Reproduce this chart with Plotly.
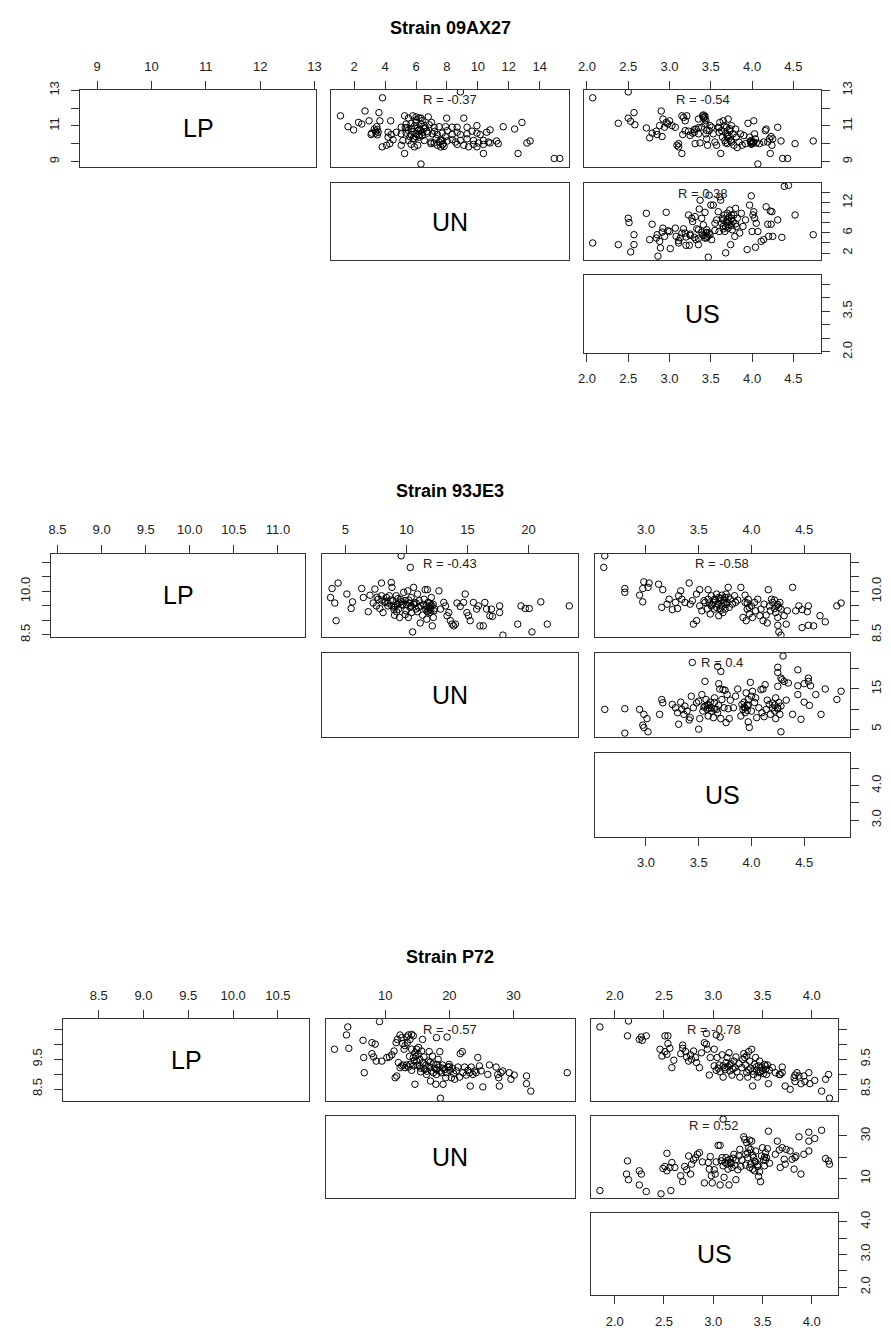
import plotly.graph_objects as go

W, H = 891, 1336
FONT = "Liberation Sans, Arial, Helvetica, sans-serif"
LINE = "#333333"

TITLES = ["Strain 09AX27", "Strain 93JE3", "Strain P72"]
VAR_NAMES = ["LP", "UN", "US"]
R_LABELS = [
    ["R = -0.37", "R = -0.54", "R = 0.38"],
    ["R = -0.43", "R = -0.58", "R = 0.4"],
    ["R = -0.57", "R = -0.78", "R = 0.52"],
]

# axis ranges per strain
RANGES = [
    {"LP": [8.69, 13.03], "UN": [0.53, 15.92], "US": [1.97, 4.83]},
    {"LP": [8.43, 11.31], "UN": [3.12, 24.03], "US": [2.52, 4.93]},
    {"LP": [8.10, 10.85], "UN": [0.83, 39.5], "US": [1.756, 4.266]},
]
# tick values, full labels (top / bottom) and thinned labels (left / right)
TICKS = [
    {"LP": [9, 10, 11, 12, 13], "UN": [2, 4, 6, 8, 10, 12, 14], "US": [2.0, 2.5, 3.0, 3.5, 4.0, 4.5]},
    {"LP": [8.5, 9.0, 9.5, 10.0, 10.5, 11.0], "UN": [5, 10, 15, 20], "US": [3.0, 3.5, 4.0, 4.5]},
    {"LP": [8.5, 9.0, 9.5, 10.0, 10.5], "UN": [10, 20, 30], "US": [2.0, 2.5, 3.0, 3.5, 4.0]},
]
TICK_TEXT = [
    {"LP": ["9", "10", "11", "12", "13"], "UN": ["2", "4", "6", "8", "10", "12", "14"],
     "US": ["2.0", "2.5", "3.0", "3.5", "4.0", "4.5"]},
    {"LP": ["8.5", "9.0", "9.5", "10.0", "10.5", "11.0"], "UN": ["5", "10", "15", "20"],
     "US": ["3.0", "3.5", "4.0", "4.5"]},
    {"LP": ["8.5", "9.0", "9.5", "10.0", "10.5"], "UN": ["10", "20", "30"],
     "US": ["2.0", "2.5", "3.0", "3.5", "4.0"]},
]
SIDE_TEXT = [
    {"LP": ["9", "", "11", "", "13"], "UN": ["2", "", "6", "", "", "12", ""],
     "US": ["2.0", "", "", "3.5", "", ""]},
    {"LP": ["8.5", "", "", "10.0", "", ""], "UN": ["5", "", "15", ""],
     "US": ["3.0", "", "4.0", ""]},
    {"LP": ["8.5", "", "9.5", "", ""], "UN": ["10", "", "30"],
     "US": ["2.0", "", "3.0", "", "4.0"]},
]

# ---------------- Strain 09AX27 ----------------
s1_un_lp = [(1.11,11.57),(3.60,11.75),(2.70,11.84),(5.26,11.57),(5.51,11.44),(5.79,11.57),(6.00,11.51),(6.32,11.44),
    (6.79,11.51),(7.98,11.44),(9.09,11.44),(3.83,12.58),(8.87,12.91),
    (1.60,10.96),(2.28,11.20),(2.49,11.11),(2.96,11.29),(3.66,11.29),(4.36,11.29),(5.04,10.93),(5.36,11.11),
    (5.68,11.15),(6.00,11.20),(6.32,11.11),(6.53,11.02),(6.85,11.07),(7.17,10.93),(7.49,10.96),(7.91,10.96),
    (8.34,10.93),(8.66,10.93),(9.30,10.93),(9.94,11.02),(11.64,10.96),(12.85,11.20),
    (1.96,10.78),(3.13,10.60),(3.30,10.83),(3.45,10.96),(3.38,10.71),(4.19,10.65),(4.40,10.52),(4.72,10.65),
    (5.04,10.56),(5.36,10.60),(5.68,10.52),(6.00,10.56),(6.11,10.74),(6.43,10.65),(6.74,10.60),(7.06,10.56),
    (7.38,10.52),(7.70,10.60),(8.02,10.74),(8.34,10.52),(8.66,10.65),(8.87,10.52),(9.30,10.56),(9.62,10.71),
    (9.94,10.60),(10.15,10.52),(10.57,10.65),(10.79,10.78),(12.38,10.83),
    (3.09,10.52),(4.19,10.38),(4.51,10.23),(5.15,10.19),(5.51,10.19),(5.89,10.28),(6.21,10.38),(6.53,10.19),
    (6.96,10.10),(7.17,10.05),(7.49,10.10),(7.70,10.19),(8.02,10.16),(8.34,10.23),(8.55,10.10),(8.87,10.19),
    (9.30,10.28),(9.72,10.19),(10.04,10.05),(10.36,10.19),(10.68,10.10),(11.21,10.16),(11.32,10.01),
    (13.17,10.05),(13.38,10.16),
    (3.81,9.83),(4.09,9.92),(4.30,10.01),(5.04,9.92),(5.68,9.97),(6.11,9.92),(6.96,10.01),(7.38,9.92),
    (7.60,9.83),(7.81,9.86),(8.66,9.97),(9.09,9.92),(9.40,9.83),(9.72,9.97),(9.94,9.83),(10.36,9.97),(10.79,10.05),
    (5.26,9.46),(5.89,9.83),(10.36,9.46),(12.60,9.46),(6.32,8.87),(14.94,9.18),(15.30,9.18),
    (6.2,10.8),(6.6,10.9),(5.8,10.7),(6.0,10.4),(7.3,10.3),(7.9,10.4),(5.4,10.9),(6.4,11.3),(7.0,11.2),
    (3.4,10.6),(3.5,10.8),
    (5.3,10.9),(5.5,10.75),(5.7,10.85),(5.9,11.0),(6.1,10.9),(6.3,10.75),(6.5,10.85),(6.7,10.7),(5.6,10.4),
    (5.8,10.3),(6.2,10.5),(6.4,10.45),(7.2,10.7),(7.6,10.2),(7.7,9.95),(7.75,10.0),(6.0,11.35),(6.2,11.45),
    (3.55,10.65),(3.5,10.5)]

s1_us_lp = [(2.07,12.58),(2.50,12.91),(2.38,11.15),(2.50,11.44),(2.53,11.26),(2.57,11.75),(2.58,11.07),(2.72,10.89),
    (2.76,10.34),(2.79,10.60),(2.84,10.71),(2.85,10.52),(2.88,11.02),(2.90,11.84),(2.91,10.41),(2.92,11.39),
    (2.94,10.93),(2.96,11.20),(2.98,11.11),(3.00,11.29),(3.03,11.02),(3.07,10.93),(3.09,9.92),(3.11,9.83),
    (3.11,10.01),(3.15,9.46),(3.15,11.57),(3.17,11.48),(3.19,11.29),(3.21,11.57),(3.16,10.52),(3.19,10.74),
    (3.23,10.71),(3.25,10.47),(3.28,10.60),(3.31,10.01),(3.32,10.83),(3.35,11.39),(3.35,10.56),(3.37,10.05),
    (3.39,10.93),(3.40,11.57),(3.41,11.62),(3.43,11.39),(3.43,11.11),(3.44,10.56),(3.45,10.28),(3.46,9.92),
    (3.48,10.74),(3.49,11.02),(3.51,10.93),(3.53,10.56),(3.55,10.10),(3.57,9.92),(3.59,10.93),(3.61,11.20),
    (3.62,9.46),(3.63,10.74),(3.64,10.38),(3.65,11.29),(3.66,11.02),(3.67,10.19),(3.68,10.60),(3.69,10.93),
    (3.70,10.01),(3.71,11.39),(3.72,10.47),(3.73,10.74),(3.74,10.19),(3.75,11.02),(3.77,10.56),(3.78,9.92),
    (3.80,10.83),(3.81,10.38),(3.82,9.79),(3.84,10.10),(3.86,10.56),(3.88,9.92),(3.90,10.47),(3.92,10.01),
    (3.95,11.15),(3.97,10.38),(3.98,10.10),(3.99,10.19),(4.01,10.10),(4.02,11.29),(4.03,10.56),(4.04,10.28),
    (4.05,10.05),(4.07,8.87),(4.09,10.01),(4.14,10.10),(4.16,10.74),(4.17,10.83),(4.19,10.10),(4.21,10.28),
    (4.22,9.46),(4.23,10.41),(4.24,9.92),(4.25,10.28),(4.31,10.93),(4.35,10.16),(4.37,9.18),(4.43,9.18),
    (4.52,10.01),(4.74,10.16),(4.00,10.05),(3.98,10.15),(3.60,10.65),(3.70,10.50),(3.45,10.75),(3.30,10.65),
    (3.42,11.50),(3.43,11.55),(3.41,11.45),(3.44,11.30),(3.70,10.40),(3.72,10.30),(3.75,10.10),(3.68,10.05),
    (3.73,10.85),(4.00,10.00),(4.02,10.08),(3.99,9.98),(3.60,10.90),(3.35,10.90),(3.30,10.80)]

s1_us_un = [(2.07,4.00),(2.38,3.67),(2.50,8.91),(2.51,8.06),(2.53,2.23),(2.57,5.64),(2.57,3.67),(2.72,9.89),
    (2.76,4.66),(2.79,7.73),(2.84,4.98),(2.85,5.64),(2.86,1.38),(2.88,4.33),(2.89,3.02),(2.91,6.16),(2.92,6.95),
    (2.94,5.31),(2.96,10.09),(2.98,6.42),(3.00,6.29),(3.01,2.89),(3.07,6.95),(3.08,5.31),(3.11,4.00),(3.11,4.46),
    (3.13,4.98),(3.15,5.97),(3.17,6.82),(3.19,5.97),(3.20,3.54),(3.23,9.57),(3.24,3.54),(3.25,5.77),(3.27,8.91),
    (3.28,8.26),(3.31,9.24),(3.32,4.66),(3.33,6.82),(3.35,3.67),(3.35,6.62),(3.36,10.75),(3.37,12.51),(3.39,8.91),
    (3.39,6.16),(3.41,7.60),(3.43,4.98),(3.43,10.09),(3.44,5.97),(3.45,6.62),(3.46,5.31),(3.47,1.18),(3.48,13.50),
    (3.49,5.64),(3.50,11.53),(3.51,4.66),(3.53,11.53),(3.55,7.93),(3.57,8.59),(3.59,10.22),(3.60,6.29),(3.61,13.17),
    (3.62,12.51),(3.63,7.93),(3.64,8.91),(3.65,7.28),(3.66,9.57),(3.67,6.29),(3.68,2.04),(3.69,8.26),(3.70,9.89),
    (3.71,6.95),(3.72,7.60),(3.73,10.55),(3.74,3.67),(3.75,8.91),(3.76,6.62),(3.77,8.26),(3.78,9.57),(3.79,5.31),
    (3.80,10.88),(3.81,7.28),(3.82,8.91),(3.85,5.97),(3.87,9.89),(3.89,7.28),(3.92,8.59),(3.94,2.69),(3.97,11.53),
    (3.99,13.37),(4.00,6.29),(4.01,9.57),(4.02,10.22),(4.03,8.91),(4.04,3.15),(4.05,7.93),(4.07,6.29),(4.11,4.33),
    (4.14,4.66),(4.17,11.20),(4.19,7.73),(4.20,5.31),(4.22,10.35),(4.23,7.73),(4.24,10.22),(4.25,5.31),(4.31,8.59),
    (4.36,5.12),(4.39,15.26),(4.44,15.46),(4.52,9.57),(4.74,5.64),
    (3.70,8.00),(3.75,7.50),(3.65,8.60),(3.55,6.50),(3.45,6.10),(3.40,5.60),(3.80,7.80),(3.72,9.10),(3.25,5.50),
    (3.20,5.20),(3.45,5.00),(3.42,5.50),(3.48,6.00),(3.70,8.60),(3.68,7.20),(3.75,9.60),(3.72,8.30),(3.65,6.80),
    (3.30,5.10),(3.35,4.90)]

# ---------------- Strain 93JE3 ----------------
s2_un_lp = [(9.57,11.23),(10.32,10.83),(4.41,10.29),(3.92,10.10),(3.79,9.79),(4.14,9.60),(4.25,8.99),(5.13,9.91),
    (5.59,9.64),(5.48,9.41),(6.34,10.10),(6.48,9.79),(6.88,9.30),(7.02,9.87),(7.28,9.60),(7.42,10.08),(7.55,9.50),
    (7.69,9.73),(7.82,9.41),(7.96,10.29),(7.96,9.85),(8.09,9.27),(8.23,9.62),(8.36,9.79),(8.49,9.50),(8.76,10.31),
    (8.82,10.14),(8.90,9.68),(8.98,9.37),(9.03,9.18),(9.17,9.85),(9.25,9.56),(9.36,9.39),(9.44,9.10),(9.52,9.73),
    (9.62,9.53),(9.78,9.97),(9.89,9.68),(9.97,9.33),(10.11,10.02),(10.16,9.10),(10.24,9.60),(10.38,9.79),(10.43,9.27),
    (10.51,8.60),(10.59,10.14),(10.65,9.62),(10.78,9.39),(10.91,9.91),(11.05,9.68),(11.13,8.91),(11.18,9.50),
    (11.32,9.18),(11.45,9.73),(11.53,10.06),(11.59,9.39),(11.67,9.04),(11.72,10.06),(11.77,9.62),(11.85,9.41),
    (11.93,9.27),(11.99,9.53),(12.04,9.79),(12.12,8.81),(12.20,9.10),(12.26,9.33),(12.66,10.02),(12.80,9.39),
    (13.06,9.62),(13.20,9.50),(13.33,9.16),(13.47,9.27),(13.60,8.99),(13.74,8.87),(13.87,8.81),(14.01,8.87),
    (14.14,9.60),(14.41,9.48),(14.68,9.62),(14.81,9.91),(14.95,9.27),(15.08,9.16),(15.22,8.99),(15.48,9.62),
    (15.75,9.39),(15.89,9.50),(16.02,8.81),(16.29,8.81),(16.42,9.62),(16.56,9.39),(16.83,9.16),(16.96,9.39),
    (17.04,9.14),(17.63,9.50),(17.63,9.27),(17.90,8.49),(19.11,8.87),(19.38,9.50),(19.73,9.41),(20.05,9.41),
    (20.27,8.60),(21.00,9.64),(21.53,8.87),(23.33,9.50),
    (8.5,9.6),(8.8,9.5),(9.1,9.5),(9.4,9.6),(9.7,9.55),(10.0,9.55),(10.3,9.45),(10.6,9.55),(11.0,9.45),(11.4,9.55),
    (11.9,9.45),(12.1,9.5),(12.3,9.4),(9.2,9.3),(9.9,9.2),(8.6,9.85),(7.6,9.8),
    (8.0,9.7),(8.3,9.65),(8.7,9.7),(9.3,9.75),(9.6,9.65),(10.2,9.7),(10.4,9.5),(10.8,9.6),(11.6,9.5),(11.7,9.3),
    (11.8,9.35),(11.9,9.6),(12.0,9.35),(12.2,9.55),(10.9,9.3),(9.0,9.45)]

s2_us_lp = [(2.61,11.23),(2.60,10.83),(2.80,10.10),(2.80,9.97),(2.94,9.87),(2.97,9.64),(2.97,10.10),(2.98,10.33),
    (3.02,10.14),(3.03,10.29),(3.12,10.25),(3.16,10.06),(3.15,9.45),(3.20,9.56),(3.22,9.73),(3.25,9.37),(3.28,9.62),
    (3.30,9.41),(3.31,9.85),(3.33,10.02),(3.34,9.73),(3.37,9.62),(3.41,10.29),(3.42,9.56),(3.44,9.68),(3.45,8.87),
    (3.48,8.99),(3.48,9.91),(3.51,10.06),(3.51,9.50),(3.53,9.33),(3.55,9.68),(3.56,9.62),(3.58,9.39),(3.59,10.06),
    (3.59,9.73),(3.61,9.22),(3.62,9.50),(3.62,9.85),(3.64,9.62),(3.65,9.39),(3.65,9.73),(3.67,9.91),(3.68,9.56),
    (3.69,9.16),(3.69,9.79),(3.70,9.41),(3.71,9.68),(3.72,9.87),(3.72,9.50),(3.73,9.27),(3.74,9.62),(3.75,9.79),
    (3.75,9.39),(3.76,9.91),(3.77,9.62),(3.78,10.14),(3.79,9.45),(3.80,9.73),(3.82,9.56),(3.84,9.85),(3.85,9.62),
    (3.87,9.70),(3.90,10.14),(3.92,9.10),(3.94,9.87),(3.94,9.62),(3.95,8.99),(3.96,9.39),(3.97,9.73),(3.98,9.22),
    (4.00,9.50),(4.01,9.10),(4.03,9.62),(4.04,9.33),(4.06,9.73),(4.08,9.16),(4.09,9.39),(4.11,8.99),(4.12,9.56),
    (4.14,9.18),(4.15,8.91),(4.16,10.06),(4.17,9.50),(4.18,9.33),(4.19,9.73),(4.20,9.62),(4.22,9.41),(4.23,9.27),
    (4.24,9.50),(4.25,9.10),(4.25,8.83),(4.26,8.60),(4.28,8.49),(4.27,9.62),(4.28,9.39),(4.31,9.16),(4.33,8.87),
    (4.34,9.33),(4.39,10.14),(4.42,9.33),(4.45,9.50),(4.48,9.37),(4.53,9.30),(4.54,9.50),(4.48,8.75),(4.54,8.83),
    (4.59,8.81),(4.65,9.16),(4.70,8.95),(4.81,9.50),(4.85,9.60),
    (3.60,9.60),(3.63,9.55),(3.66,9.70),(3.70,9.75),(3.74,9.70),(3.76,9.55),(3.78,9.80),(3.67,9.45),(3.71,9.35),
    (3.96,9.60),(3.98,9.45),(4.25,9.55),(4.26,9.45),(4.22,9.70)]

s2_us_un = [(3.44,21.6),(3.68,20.6),(3.71,19.35),(4.30,23.2),(4.25,20.4),(4.25,19.1),(4.28,17.71),(4.29,17.30),
    (4.31,16.89),(4.35,16.48),(4.44,19.76),(4.25,15.66),(4.44,15.8),(4.44,13.61),(4.50,16.32),(4.54,17.71),
    (4.54,16.89),(4.56,15.8),(4.61,13.61),(4.70,15.0),(4.81,12.38),(4.85,14.43),(4.50,11.72),(4.55,10.91),
    (4.66,8.69),(4.47,7.46),(4.39,8.69),(4.28,4.35),(2.61,9.92),(2.80,10.09),(2.94,9.92),(2.98,8.69),(3.01,7.63),
    (2.97,5.99),(2.98,5.42),(3.02,4.35),(2.80,4.02),(3.13,8.69),(3.15,12.38),(3.16,11.56),(3.25,11.15),(3.28,10.33),
    (3.30,9.10),(3.31,6.23),(3.33,11.72),(3.34,9.92),(3.36,8.69),(3.37,10.74),(3.39,9.51),(3.41,7.30),(3.42,7.87),
    (3.43,13.2),(3.45,10.33),(3.48,11.56),(3.50,5.01),(3.50,11.97),(3.51,7.63),(3.53,13.61),(3.54,9.51),(3.56,16.89),
    (3.56,10.74),(3.57,12.38),(3.58,9.92),(3.59,8.28),(3.59,11.15),(3.61,11.72),(3.62,9.51),(3.62,10.33),(3.64,7.87),
    (3.65,12.79),(3.65,11.64),(3.67,9.92),(3.68,9.10),(3.69,10.91),(3.69,16.32),(3.70,15.0),(3.71,7.63),(3.72,12.38),
    (3.73,14.84),(3.74,10.33),(3.75,14.68),(3.76,6.64),(3.77,13.61),(3.78,10.09),(3.79,7.63),(3.80,12.22),(3.83,10.33),
    (3.85,13.2),(3.87,15.0),(3.90,8.28),(3.91,11.15),(3.92,9.92),(3.93,11.72),(3.94,10.33),(3.94,9.10),(3.95,14.02),
    (3.96,10.91),(3.97,6.81),(3.97,12.38),(3.98,5.42),(3.99,16.65),(4.00,9.51),(4.00,13.2),(4.01,14.43),(4.03,11.64),
    (4.04,12.79),(4.05,7.87),(4.07,10.33),(4.09,14.84),(4.10,9.10),(4.11,15.0),(4.12,8.11),(4.13,16.07),(4.14,9.92),
    (4.15,12.22),(4.17,11.15),(4.18,8.69),(4.20,10.33),(4.22,9.51),(4.23,7.63),(4.23,12.79),(4.25,10.33),(4.26,11.64),
    (4.27,8.69),(4.28,10.74),(4.33,12.22),
    (3.55,10.5),(3.60,10.2),(3.65,10.0),(3.58,11.0),(3.93,10.5),(3.96,9.7),(3.97,11.0),(4.20,11.5),(4.22,11.0),
    (4.25,10.0)]

# ---------------- Strain P72 ----------------
s3_un_lp = [(4.18,10.59),(3.97,10.32),(9.12,10.77),(2.11,9.84),(4.33,9.87),(6.55,10.14),(7.94,10.06),(8.45,10.01),
    (6.65,9.56),(7.94,9.69),(8.20,9.58),(8.61,9.44),(6.75,9.05),(9.48,9.44),(10.26,9.56),(10.67,9.58),(11.03,9.65),
    (11.39,9.78),(11.70,10.06),(11.91,10.17),(12.32,10.32),(12.58,10.23),(12.73,10.03),(12.94,9.84),(13.09,9.96),
    (13.35,10.25),(13.61,10.32),(13.87,10.17),(14.12,10.34),(14.38,10.29),(13.45,10.06),(11.55,8.88),(11.80,8.94),
    (12.06,9.39),(12.32,9.22),(12.58,9.28),(12.84,9.31),(13.09,9.22),(13.35,9.31),(13.61,9.24),(13.87,9.33),
    (14.12,9.13),(14.38,9.28),(14.64,8.66),(14.12,9.84),(14.38,9.56),(14.64,9.72),(14.90,9.84),(14.90,9.44),
    (15.15,9.67),(15.31,9.28),(15.41,9.50),(15.52,9.08),(15.67,9.78),(15.82,10.17),(15.93,9.39),(16.03,9.58),
    (16.19,9.16),(16.34,9.31),(16.44,8.99),(16.70,9.44),(16.86,9.76),(16.96,9.24),(17.06,8.77),(17.22,9.11),
    (17.37,9.61),(17.47,9.35),(17.73,9.20),(17.89,8.66),(17.99,10.23),(17.99,8.99),(18.09,9.33),(18.25,9.50),
    (18.40,9.24),(18.51,9.76),(18.61,8.19),(18.76,9.05),(18.92,9.31),(19.02,8.66),(19.28,9.16),(19.43,8.88),
    (19.64,10.25),(19.79,9.24),(19.95,9.33),(20.05,9.13),(20.31,8.88),(20.46,9.20),(20.67,9.02),(20.82,8.83),
    (21.08,9.11),(21.34,9.24),(21.60,8.90),(21.70,9.69),(22.01,9.76),(22.11,9.05),(22.37,9.24),(22.63,8.97),
    (22.89,9.13),(23.14,9.05),(23.25,8.60),(23.40,9.24),(23.66,8.99),(23.92,9.11),(24.18,9.05),(24.43,9.56),
    (24.69,9.28),(24.95,9.11),(25.21,8.57),(25.98,8.99),(26.24,9.31),(27.27,9.24),(27.53,8.99),(27.68,8.88),
    (27.78,8.60),(28.04,9.05),(28.30,9.11),(29.33,9.05),(29.59,8.83),(30.10,8.97),(32.01,8.94),(32.01,8.68),
    (32.68,8.43),(38.35,9.05),
    (14.5,9.45),(15.0,9.30),(15.5,9.20),(16.0,9.20),(16.5,9.10),(17.0,9.40),(17.5,9.05),(18.0,9.15),(18.5,9.10),
    (19.0,9.20),(19.5,9.05),(20.0,9.25),(14.8,9.60),(15.2,9.90),(13.8,9.60)]

s3_us_lp = [(1.85,10.59),(2.14,10.79),(2.13,10.29),(2.25,10.17),(2.27,10.25),(2.32,10.29),(2.28,10.14),(2.51,10.29),
    (2.54,10.29),(2.54,10.03),(2.46,9.84),(2.51,9.76),(2.48,9.61),(2.56,9.87),(2.53,9.67),(2.60,9.47),(2.58,9.22),
    (2.67,9.69),(2.69,9.98),(2.69,9.87),(2.72,9.76),(2.73,9.58),(2.75,9.44),(2.77,9.65),(2.78,9.50),(2.80,9.78),
    (2.82,9.56),(2.83,9.39),(2.86,9.22),(2.88,9.72),(2.91,10.06),(2.93,10.01),(2.94,9.84),(2.93,10.37),(2.97,9.56),
    (2.96,8.97),(3.01,9.84),(3.03,10.32),(3.07,10.25),(3.04,9.56),(3.01,9.28),(3.03,9.13),(3.06,9.31),(3.07,9.08),
    (3.09,9.65),(3.10,8.90),(3.12,9.22),(3.13,9.39),(3.14,9.56),(3.16,9.72),(3.17,9.11),(3.17,9.31),(3.19,8.97),
    (3.21,9.44),(3.22,9.22),(3.23,9.58),(3.24,9.08),(3.26,9.35),(3.27,8.90),(3.29,9.22),(3.31,9.69),(3.32,9.56),
    (3.33,9.31),(3.34,9.05),(3.35,8.90),(3.36,9.76),(3.37,9.44),(3.38,9.20),(3.39,9.84),(3.40,8.60),(3.41,8.99),
    (3.42,9.33),(3.43,9.56),(3.44,9.13),(3.45,8.90),(3.46,9.28),(3.47,9.44),(3.48,9.08),(3.49,9.22),(3.51,9.02),
    (3.52,9.33),(3.53,9.16),(3.54,8.99),(3.55,9.31),(3.56,8.68),(3.57,9.13),(3.60,9.22),(3.63,9.05),(3.67,8.99),
    (3.68,8.99),(3.70,9.05),(3.70,9.24),(3.73,8.60),(3.78,8.49),(3.82,8.88),(3.83,8.97),(3.83,8.75),(3.85,9.05),
    (3.87,8.94),(3.89,8.68),(3.92,8.94),(3.93,8.75),(3.97,9.05),(3.98,8.68),(4.03,8.79),(4.10,8.43),(4.14,8.83),
    (4.17,8.99),(4.18,8.19),
    (3.10,9.28),(3.12,9.15),(3.15,9.25),(3.18,9.35),(3.20,9.18),(3.30,9.50),(3.34,9.62),(3.36,9.15),(3.40,9.10),
    (3.44,9.25),(3.47,9.05),(3.50,9.12),(3.05,9.20),(3.53,9.28)]

s3_us_un = [(1.85,4.25),(2.13,18.22),(2.12,12.01),(2.14,9.37),(2.25,13.56),(2.27,12.01),(2.25,6.89),(2.32,3.78),
    (2.47,2.69),(2.53,21.8),(2.51,15.58),(2.49,14.65),(2.53,13.56),(2.56,15.12),(2.58,17.44),(2.61,15.12),(2.57,4.25),
    (2.67,11.23),(2.69,8.44),(2.71,15.58),(2.73,14.03),(2.75,20.55),(2.77,12.01),(2.78,16.67),(2.80,18.68),
    (2.82,19.77),(2.84,21.33),(2.86,22.10),(2.89,17.75),(2.91,7.82),(2.95,17.44),(2.96,14.34),(2.97,20.24),
    (2.98,11.23),(2.99,7.82),(3.01,14.03),(3.02,12.01),(3.03,17.75),(3.05,25.52),(3.07,6.89),(3.07,25.52),
    (3.08,18.22),(3.09,19.77),(3.10,15.89),(3.11,10.46),(3.12,17.44),(3.13,19.77),(3.14,16.67),(3.15,14.34),
    (3.16,6.89),(3.17,19.0),(3.18,17.44),(3.19,15.12),(3.21,21.33),(3.22,16.2),(3.23,9.37),(3.23,18.68),(3.25,14.03),
    (3.26,20.55),(3.27,23.66),(3.28,15.58),(3.29,18.68),(3.31,29.56),(3.32,28.31),(3.33,21.33),(3.33,16.2),
    (3.34,26.76),(3.35,19.77),(3.36,24.43),(3.37,15.12),(3.37,28.0),(3.38,16.67),(3.39,27.54),(3.40,14.34),
    (3.41,19.77),(3.42,13.56),(3.43,22.88),(3.43,17.75),(3.45,15.58),(3.46,10.92),(3.47,13.09),(3.48,8.44),
    (3.49,20.55),(3.50,24.43),(3.51,18.68),(3.52,15.89),(3.53,22.10),(3.54,19.77),(3.55,23.97),(3.56,32.2),
    (3.57,17.13),(3.63,21.33),(3.65,27.54),(3.67,23.35),(3.68,15.12),(3.70,24.43),(3.72,19.0),(3.73,16.67),
    (3.74,23.66),(3.78,22.88),(3.80,19.0),(3.82,14.34),(3.83,19.77),(3.84,20.55),(3.87,29.56),(3.89,12.01),
    (3.92,21.33),(3.97,27.54),(3.97,22.88),(3.97,31.73),(4.03,28.78),(4.10,32.66),(4.14,19.31),(4.17,18.22),
    (4.18,16.67),(3.10,37.9),
    (3.35,22.0),(3.40,21.0),(3.38,23.5),(3.52,20.0),(3.53,18.5),(3.15,18.5),(3.18,17.0),(3.20,19.5),(3.42,18.0),
    (3.45,16.5)]

SCATTER = [
    {(0, 1): s1_un_lp, (0, 2): s1_us_lp, (1, 2): s1_us_un},
    {(0, 1): s2_un_lp, (0, 2): s2_us_lp, (1, 2): s2_us_un},
    {(0, 1): s3_un_lp, (0, 2): s3_us_lp, (1, 2): s3_us_un},
]

# panel geometry in pixels: (left, right) per column, (top, bottom) per row
GEOM = [
    dict(cols=[(74.3, 313.7), (329.3, 570.7), (586, 825.7)],
         rows=[(81.7, 160), (176, 254.3), (269.3, 347.7)], title_y=19),
    dict(cols=[(45, 302.7), (320, 579.3), (597, 855)],
         rows=[(550.7, 635), (651, 736), (752.7, 837.3)], title_y=487),
    dict(cols=[(56.7, 306.7), (324, 576), (592.3, 843.3)],
         rows=[(1021.7, 1104.3), (1119.3, 1202.3), (1217.7, 1300.7)], title_y=959),
]

fig = go.Figure()
layout = {}
annotations = []
idx = 0


def tick_font():
    return dict(family=FONT, size=13, color="#222222")


for s in range(3):
    g = GEOM[s]
    for r in range(3):
        for c in range(r, 3):
            idx += 1
            xname = "x" if idx == 1 else f"x{idx}"
            yname = "y" if idx == 1 else f"y{idx}"
            xkey = "xaxis" if idx == 1 else f"xaxis{idx}"
            ykey = "yaxis" if idx == 1 else f"yaxis{idx}"
            (l, rr), (t, b) = g["cols"][c], g["rows"][r]
            xv, yv = VAR_NAMES[c], VAR_NAMES[r]
            xa = dict(domain=[l / W, rr / W], range=RANGES[s][xv], anchor=yname,
                      showline=True, mirror=True, linecolor=LINE, linewidth=1,
                      showgrid=False, zeroline=False, fixedrange=True,
                      ticks="", showticklabels=False)
            ya = dict(domain=[1 - b / H, 1 - t / H], range=RANGES[s][yv], anchor=xname,
                      showline=True, mirror=True, linecolor=LINE, linewidth=1,
                      showgrid=False, zeroline=False, fixedrange=True,
                      ticks="", showticklabels=False)
            # x ticks
            if r == 0 or (r == 2 and c == 2):
                xa.update(tickmode="array", tickvals=TICKS[s][xv], ticktext=TICK_TEXT[s][xv],
                          ticks="outside", ticklen=8, tickwidth=1, tickcolor=LINE,
                          side="top" if r == 0 else "bottom", showticklabels=True,
                          tickangle=0, tickfont=tick_font(),
                          ticklabelstandoff=5 if r == 0 else 6)
            # y ticks
            if (r, c) == (0, 0) or c == 2:
                ya.update(tickmode="array", tickvals=TICKS[s][yv], ticktext=SIDE_TEXT[s][yv],
                          ticks="outside", ticklen=8, tickwidth=1, tickcolor=LINE,
                          side="left" if c == 0 else "right", showticklabels=True,
                          tickangle=-90, tickfont=tick_font(), ticklabelstandoff=7)
            layout[xkey] = xa
            layout[ykey] = ya

            if r == c:
                fig.add_trace(go.Scatter(x=[], y=[], xaxis=xname, yaxis=yname,
                                         mode="markers", showlegend=False))
                annotations.append(dict(xref=f"{xname} domain", yref=f"{yname} domain",
                                        x=0.5, y=0.5, text=VAR_NAMES[r], showarrow=False,
                                        font=dict(family=FONT, size=25, color="black"),
                                        xanchor="center", yanchor="middle"))
            else:
                pts = SCATTER[s][(r, c)]
                fig.add_trace(go.Scatter(
                    x=[p[0] for p in pts], y=[p[1] for p in pts],
                    xaxis=xname, yaxis=yname, mode="markers", showlegend=False,
                    marker=dict(symbol="circle-open", size=6.5, color="black",
                                line=dict(width=1, color="black")),
                    hoverinfo="skip"))
                ri = {(0, 1): 0, (0, 2): 1, (1, 2): 2}[(r, c)]
                annotations.append(dict(xref=f"{xname} domain", yref=f"{yname} domain",
                                        x=0.5, y=1, yshift=-10, text=R_LABELS[s][ri],
                                        showarrow=False,
                                        font=dict(family=FONT, size=13, color="#222222"),
                                        xanchor="center", yanchor="middle"))
    annotations.append(dict(xref="paper", yref="paper", x=450 / W, y=1 - g["title_y"] / H,
                            text=f"<b>{TITLES[s]}</b>", showarrow=False,
                            font=dict(family=FONT, size=18, color="black"),
                            xanchor="center", yanchor="middle"))

fig.update_layout(**layout)
fig.update_layout(width=W, height=H, margin=dict(l=0, r=0, t=0, b=0),
                  paper_bgcolor="white", plot_bgcolor="white",
                  showlegend=False, annotations=annotations)
fig.write_html("out.html")
